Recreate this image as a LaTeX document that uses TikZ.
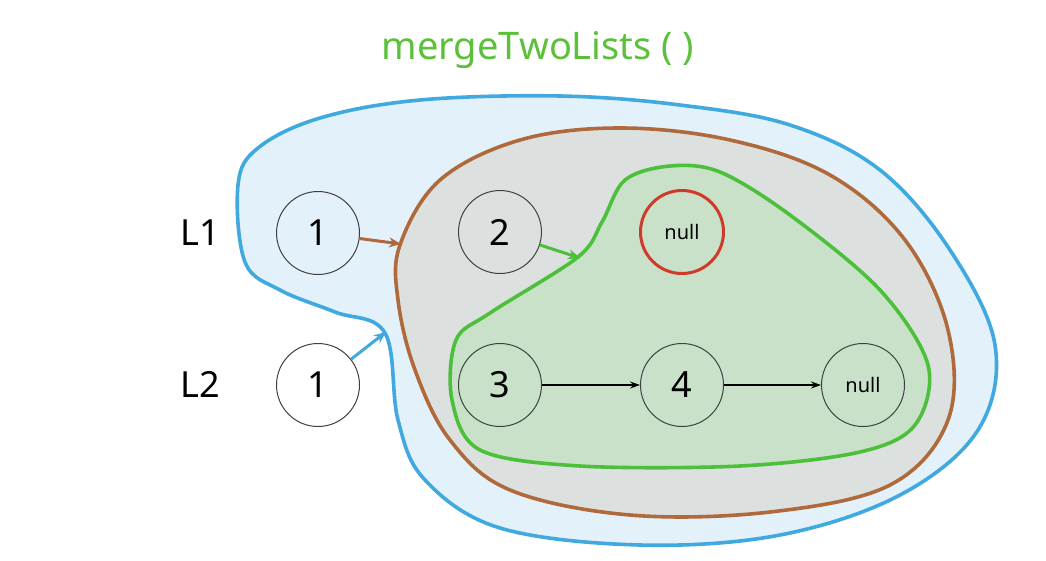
\documentclass[tikz,border=0pt]{standalone}
\usepackage{fontspec}
\setmainfont{Noto Sans}
\usetikzlibrary{arrows.meta}
\definecolor{bluefill}{HTML}{E3F1FA}
\definecolor{bluestroke}{HTML}{3FA9E0}
\definecolor{brownstroke}{HTML}{B0693A}
\definecolor{grayfill}{HTML}{DCE1E0}
\definecolor{greenfill}{HTML}{C8E1C8}
\definecolor{greenstroke}{HTML}{4CC03A}
\definecolor{redstroke}{HTML}{D03A2A}
\definecolor{titlegreen}{HTML}{5CC13A}
\tikzset{
  listnode/.style={circle, draw=black!75, line width=1pt, minimum size=83pt, inner sep=0pt, font=\fontsize{36}{36}\selectfont},
  nullnode/.style={listnode, font=\fontsize{20}{20}\selectfont},
  lbl/.style={font=\fontsize{36}{36}\selectfont},
  blob/.style={line width=3.6pt, line join=round},
  ptr/.style={-{Stealth[length=12pt,width=10pt]}, line width=3pt},
  link/.style={-{Stealth[length=10pt,width=7pt]}, line width=1.2pt, black}
}
\begin{document}
\begin{tikzpicture}[x=1pt,y=-1pt]
\useasboundingbox[fill=white] (0,0) rectangle (1046,560);
% title
\node[font=\fontsize{38}{38}\selectfont, text=titlegreen] (title) at (538,50) {mergeTwoLists ( )};
% blue blob
\draw[blob, draw=bluestroke, fill=bluefill] plot[smooth cycle, tension=0.6] coordinates {
  (238,185) (258,148) (320,118) (420,100) (560,96) (680,105) (790,125) (880,170) (950,250)
  (995,345) (978,430) (900,495) (780,535) (640,545) (500,528) (425,480) (398,420) (385,333)
  (335,312) (280,290) (245,262)};
% brown blob
\draw[blob, draw=brownstroke, fill=grayfill] plot[smooth cycle, tension=0.6] coordinates {
  (400,245) (440,180) (520,140) (620,128) (730,140) (830,175) (905,240) (948,330)
  (948,420) (890,485) (770,512) (630,515) (510,490) (450,440) (415,370) (398,300)};
% green blob
\draw[blob, draw=greenstroke, fill=greenfill] plot[smooth cycle, tension=0.55] coordinates {
  (578,257) (602,222) (625,180) (670,166) (720,172) (790,215) (880,290) (928,365)
  (915,425) (860,452) (740,466) (580,466) (480,450) (452,400) (456,340) (490,313)};
% nodes
\node[lbl] (L1) at (200,233) {L1};
\node[lbl] (L2) at (200,384) {L2};
\node[listnode] (a1) at (318,233) {1};
\node[listnode] (b1) at (318,385) {1};
\node[listnode] (a2) at (500,232) {2};
\node[nullnode, draw=redstroke, line width=3pt] (anull) at (682,232) {null};
\node[listnode] (b3) at (500,385) {3};
\node[listnode] (b4) at (682,385) {4};
\node[nullnode] (bnull) at (863,385) {null};
% pointer targets
\coordinate (brownin) at (401,244);
\coordinate (greenin) at (580,258);
\coordinate (bluein) at (386,332);
\draw[ptr, brownstroke] (a1) -- (brownin);
\draw[ptr, greenstroke] (a2) -- (greenin);
\draw[ptr, bluestroke] (b1) -- (bluein);
\draw[link] (b3) -- (b4);
\draw[link] (b4) -- (bnull);
\end{tikzpicture}
\end{document}
